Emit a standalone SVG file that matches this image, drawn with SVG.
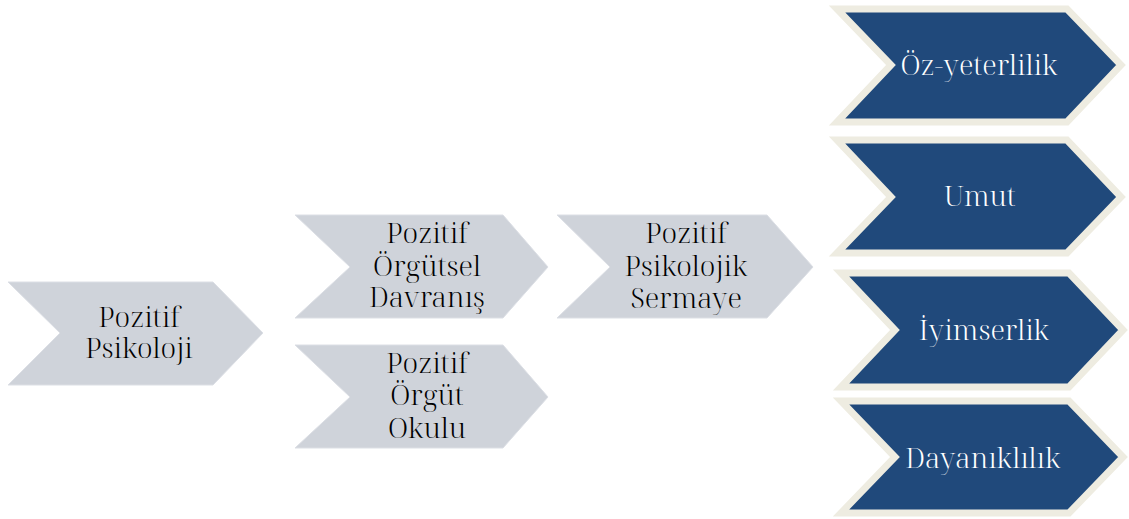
<svg xmlns="http://www.w3.org/2000/svg" width="1129" height="519" viewBox="0 0 1129 519">
<style>
.g{fill:#CFD3DA;stroke:#DCDFE5;stroke-width:1}
.b{fill:#20497B;stroke:#EEECE1;stroke-width:7;stroke-linejoin:miter}
text{font-family:'Noto Serif Display','Liberation Serif','Noto Serif','DejaVu Serif',serif;font-size:28px;font-weight:300;text-anchor:middle}
.tg{fill:#000000}
.tb{fill:#FFFFFF}
</style>
<rect width="1129" height="519" fill="#FFFFFF"/>
<g id="connectors"></g>
<g id="n-pozitif-psikoloji">
<polygon class="g" points="8,282 213,282 263,333 213,385 8,385 60,333"/>
<text class="tg" x="139" y="327">Pozitif</text>
<text class="tg" x="139" y="358">Psikoloji</text>
</g>
<g id="n-pozitif-orgutsel-davranis">
<polygon class="g" points="295,215 503,215 548,267 503,318 295,318 350,267"/>
<text class="tg" x="427" y="243">Pozitif</text>
<text class="tg" x="427" y="276">Örgütsel</text>
<text class="tg" x="427" y="307">Davranış</text>
</g>
<g id="n-pozitif-orgut-okulu">
<polygon class="g" points="295,345 503,345 548,397 503,448 295,448 350,397"/>
<text class="tg" x="427" y="373">Pozitif</text>
<text class="tg" x="427" y="405">Örgüt</text>
<text class="tg" x="427" y="438">Okulu</text>
</g>
<g id="n-pozitif-psikolojik-sermaye">
<polygon class="g" points="557,215 767,215 813,267 767,318 557,318 610,267"/>
<text class="tg" x="686" y="243">Pozitif</text>
<text class="tg" x="686" y="276">Psikolojik</text>
<text class="tg" x="686" y="308">Sermaye</text>
</g>
<g id="n-oz-yeterlilik">
<polygon class="b" points="837,9 1067,9 1121,65 1067,122 837,122 891,65"/>
<text class="tb" x="979" y="75">Öz-yeterlilik</text>
</g>
<g id="n-umut">
<polygon class="b" points="837,140 1067,140 1121,197 1067,253 837,253 891,197"/>
<text class="tb" x="980" y="206">Umut</text>
</g>
<g id="n-iyimserlik">
<polygon class="b" points="841,273 1069,273 1123,330 1069,387 841,387 895,330"/>
<text class="tb" x="984" y="340">İyimserlik</text>
</g>
<g id="n-dayaniklilik">
<polygon class="b" points="841,401 1069,401 1123,457 1069,513 841,513 895,457"/>
<text class="tb" x="983" y="468">Dayanıklılık</text>
</g>
</svg>
